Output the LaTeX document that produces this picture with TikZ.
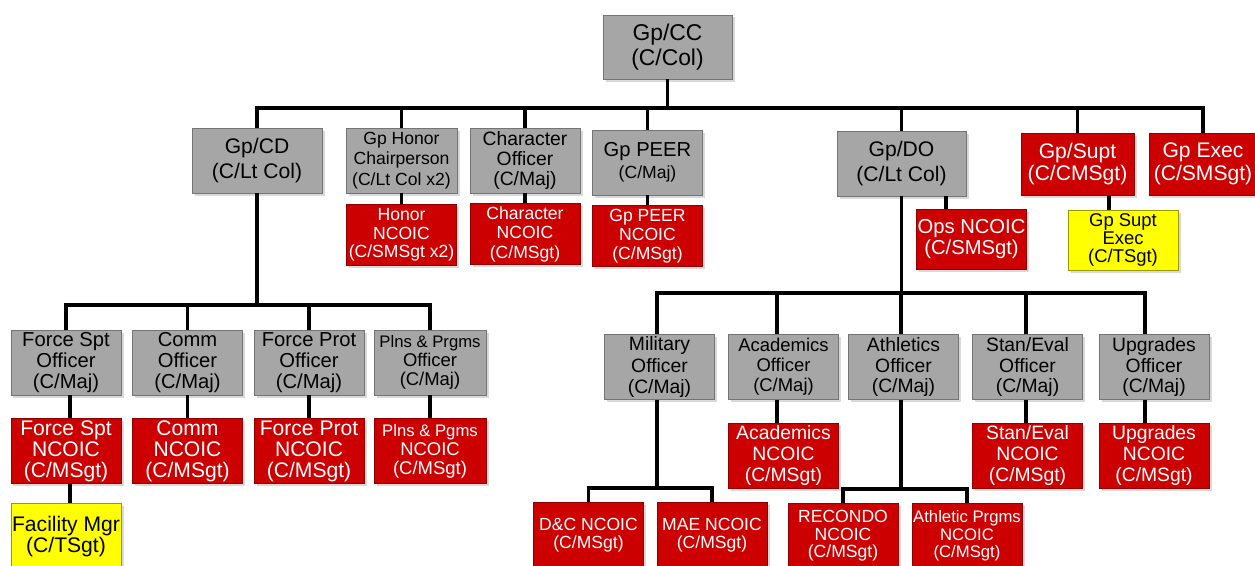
\documentclass[tikz,border=0pt]{standalone}
\usepackage{fontspec}
\setmainfont{Liberation Sans}
\usetikzlibrary{positioning}
\usetikzlibrary{shadows}
\definecolor{offgray}{RGB}{166,166,166}
\definecolor{ncored}{RGB}{204,0,0}
\definecolor{execyel}{RGB}{255,255,0}
\tikzset{
  officer/.style={rectangle,draw=offgray!70!black,fill=offgray,
                  minimum width=22mm,minimum height=13mm,
                  inner sep=0pt,align=center,
                  drop shadow={shadow xshift=0.5mm,shadow yshift=-0.5mm,
                               opacity=0.3}},
  ncoic/.style={officer,draw=ncored!70!black,fill=ncored,text=white,
                minimum height=12.2mm},
  asst/.style={officer,draw=execyel!60!black,fill=execyel,
               minimum height=12mm},
  fsz/.style 2 args={font=\fontsize{#1}{#2}\selectfont},
  link/.style={line width=1.8pt},
}

\begin{document}
\begin{tikzpicture}[x=0.2mm,y=-0.2mm]
  \useasboundingbox (0,0) rectangle (1255,565);
  \clip (0,0) rectangle (1255,565);

  % group staff
  \node[officer,fsz={13}{14},minimum width=25.8mm,minimum height=12.8mm]
      (gpcc) at (667.5,47) {Gp/CC\\(C/Col)};
  \node[officer,fsz={12}{14},minimum width=26mm]
      (gpcd) at (257,160.5) {Gp/CD\\(C/Lt Col)};
  \node[officer,fsz={10}{11.5},minimum width=22.2mm]
      (honor) at (401.5,160.5) {Gp Honor\\Chairperson\\(C/Lt Col x2)};
  \node[officer,fsz={11}{11.5}]
      (charoff) at (525,160.5) {Character\\Officer\\(C/Maj)};
  \node[officer,fsz={11.5}{12.5}]
      (peer) at (647.5,162.5) {Gp PEER\\{\fontsize{10}{12}\selectfont(C/Maj)}};
  \node[officer,fsz={12}{14},minimum width=25.8mm]
      (gpdo) at (901.5,163.5) {Gp/DO\\(C/Lt Col)};
  \node[ncoic,fsz={12}{13},minimum width=22.6mm,minimum height=12.4mm]
      (supt) at (1077.5,164) {Gp/Supt\\(C/CMSgt)};
  \node[ncoic,fsz={12}{13},minimum width=21.6mm,minimum height=12.4mm]
      (exec) at (1203,164) {Gp Exec\\(C/SMSgt)};

  \node[ncoic,fsz={10}{10.5},below=2.2mm of honor]
      (honorncoic) {Honor\\NCOIC\\(C/SMSgt x2)};
  \node[ncoic,fsz={10}{11},below=2mm of charoff]
      (charncoic) {Character\\NCOIC\\(C/MSgt)};
  \node[ncoic,fsz={10}{11},below=2mm of peer]
      (peerncoic) {Gp PEER\\NCOIC\\(C/MSgt)};
  \node[ncoic,fsz={11.5}{12},minimum height=12mm]
      (opsncoic) at (971.5,239) {Ops NCOIC\\(C/SMSgt)};
  \node[asst,fsz={10.5}{10.5}]
      (suptexec) at (1123,240) {Gp Supt\\Exec\\(C/TSgt)};

  % CD branch
  \node[officer,fsz={11.5}{12}] (fso) at (66,362.5) {Force Spt\\Officer\\(C/Maj)};
  \node[officer,fsz={11.5}{12}] (cmo) at (187.5,362.5) {Comm\\Officer\\(C/Maj)};
  \node[officer,fsz={11.5}{12}] (fpo) at (309,362.5) {Force Prot\\Officer\\(C/Maj)};
  \node[officer,fsz={10.5}{11},minimum width=22.4mm] (ppo) at (430,362.5)
      {{\fontsize{9.5}{11}\selectfont Plns \& Prgms}\\Officer\\(C/Maj)};

  \node[ncoic,fsz={12}{12},minimum height=13mm,below=4.6mm of fso]
      (fsn) {Force Spt\\NCOIC\\(C/MSgt)};
  \node[ncoic,fsz={12}{12},minimum height=13mm,below=4.6mm of cmo]
      (cmn) {Comm\\NCOIC\\(C/MSgt)};
  \node[ncoic,fsz={12}{12},minimum height=13mm,below=4.6mm of fpo]
      (fpn) {Force Prot\\NCOIC\\(C/MSgt)};
  \node[ncoic,fsz={10.5}{11},minimum height=13mm,minimum width=22.4mm,
        below=4.6mm of ppo]
      (ppn) {{\fontsize{9.5}{11}\selectfont Plns \& Pgms}\\NCOIC\\(C/MSgt)};
  \node[asst,fsz={12}{12},minimum height=13.2mm,below=3.8mm of fsn]
      (facility) {Facility Mgr\\(C/TSgt)};

  % DO branch
  \node[officer,fsz={11}{12}] (milo) at (659.5,367) {Military\\Officer\\(C/Maj)};
  \node[officer,fsz={10.5}{11.5}] (acao) at (783.5,367) {Academics\\Officer\\(C/Maj)};
  \node[officer,fsz={11}{11.7}] (atho) at (903.5,367) {Athletics\\Officer\\(C/Maj)};
  \node[officer,fsz={11}{11.7}] (seo) at (1027.5,367) {Stan/Eval\\Officer\\(C/Maj)};
  \node[officer,fsz={11}{11.7}] (upo) at (1154,367) {Upgrades\\Officer\\(C/Maj)};

  \node[ncoic,fsz={11}{12},minimum height=13mm,below=4.6mm of acao]
      (acan) {Academics\\NCOIC\\(C/MSgt)};
  \node[ncoic,fsz={11}{12},minimum height=13mm,below=4.6mm of seo]
      (sen) {Stan/Eval\\NCOIC\\(C/MSgt)};
  \node[ncoic,fsz={11}{12},minimum height=13mm,below=4.6mm of upo]
      (upn) {Upgrades\\NCOIC\\(C/MSgt)};

  \node[ncoic,fsz={10}{10.5},minimum height=13.2mm]
      (dcn) at (588.5,535) {D\&C NCOIC\\(C/MSgt)};
  \node[ncoic,fsz={10}{10.5},minimum height=13.2mm]
      (maen) at (712,535) {MAE NCOIC\\(C/MSgt)};
  \node[ncoic,fsz={10}{10},minimum height=13.2mm]
      (recn) at (843,536) {RECONDO\\NCOIC\\(C/MSgt)};
  \node[ncoic,fsz={9.5}{10},minimum height=13.2mm]
      (atpn) at (967,536) {Athletic Prgms\\NCOIC\\(C/MSgt)};

  % bars
  \coordinate (topbar) at (0,108);
  \coordinate (cdbar) at (0,305);
  \coordinate (dobar) at (0,293);
  \coordinate (milbar) at (0,488);
  \coordinate (athbar) at (0,489);

  \draw[link] (gpcc.south) -- (gpcc.south |- topbar);
  \draw[link] (gpcd.north) |- (exec.north |- topbar) -- (exec.north);
  \foreach \n in {honor,charoff,peer,gpdo,supt}
    \draw[link] (\n.north |- topbar) -- (\n.north);

  \draw[link] (honor) -- (honorncoic);
  \draw[link] (charoff) -- (charncoic);
  \draw[link] (peer) -- (peerncoic);
  \draw[link] ([xshift=-5.1mm]opsncoic.north)
      -- ([xshift=-5.1mm]opsncoic.north |- gpdo.south);
  \draw[link] ([xshift=-2.8mm]suptexec.north)
      -- ([xshift=-2.8mm]suptexec.north |- supt.south);

  \draw[link] (gpcd.south) -- (gpcd.south |- cdbar);
  \draw[link] (fso.north) |- (ppo.north |- cdbar) -- (ppo.north);
  \foreach \n in {cmo,fpo}
    \draw[link] (\n.north |- cdbar) -- (\n.north);
  \draw[link] ([xshift=0.8mm]fso.south) -- ([xshift=0.8mm]fsn.north);
  \draw[link] ([xshift=0.8mm]fsn.south) -- ([xshift=0.8mm]fsn.south |- facility.north);
  \draw[link] (cmo) -- (cmn);
  \draw[link] (fpo) -- (fpn);
  \draw[link] (ppo) -- (ppn);

  \draw[link] (gpdo.south) -- (gpdo.south |- dobar);
  \draw[link] ([xshift=-0.5mm]milo.north) |- ([xshift=-1.8mm]upo.north |- dobar)
      -- ([xshift=-1.8mm]upo.north);
  \foreach \n/\s in {acao/-1.3,atho/-0.5,seo/-0.3}
    \draw[link] ([xshift=\s mm]\n.north |- dobar) -- ([xshift=\s mm]\n.north);
  \foreach \n/\m/\s in {acao/acan/-1.3,seo/sen/-0.3,upo/upn/-1.8}
    \draw[link] ([xshift=\s mm]\n.south) -- ([xshift=\s mm]\m.north);

  \draw[link] ([xshift=-0.5mm]milo.south) -- ([xshift=-0.5mm]milo.south |- milbar);
  \draw[link] (dcn.north) |- (maen.north |- milbar) -- (maen.north);
  \draw[link] ([xshift=-0.5mm]atho.south) -- ([xshift=-0.5mm]atho.south |- athbar);
  \draw[link] (recn.north) |- (atpn.north |- athbar) -- (atpn.north);
\end{tikzpicture}
\end{document}
